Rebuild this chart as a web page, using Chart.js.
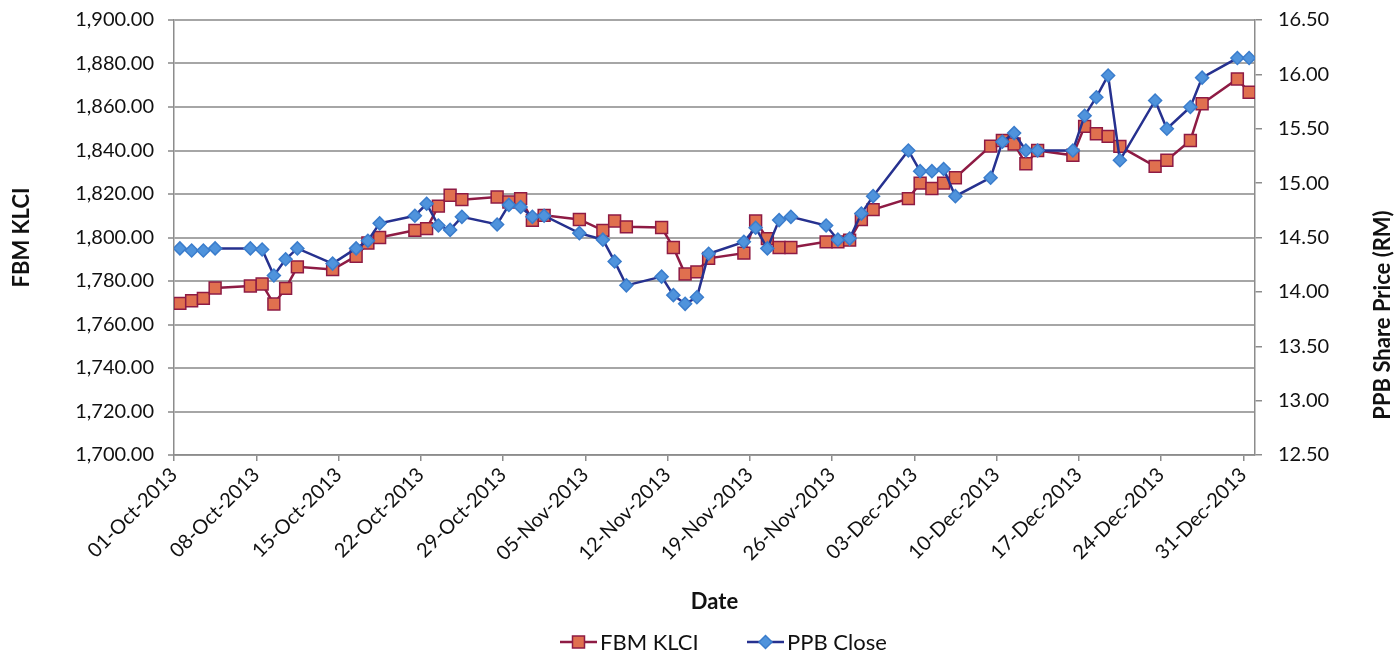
<!DOCTYPE html>
<html>
<head>
<meta charset="utf-8">
<script src="https://cdn.jsdelivr.net/npm/chart.js@4.4.0/dist/chart.umd.min.js"></script>
<style>
	html, body { margin: 0; padding: 0; background: #fff; }
	#multiChart { display: block; }
</style>
</head>
<body>
<canvas id="multiChart" width="1398" height="654"></canvas>
<script>
const tradeDates = [
	'2013-10-01', '2013-10-02', '2013-10-03', '2013-10-04',
	'2013-10-07', '2013-10-08', '2013-10-09', '2013-10-10', '2013-10-11',
	'2013-10-14', '2013-10-16', '2013-10-17', '2013-10-18',
	'2013-10-21', '2013-10-22', '2013-10-23', '2013-10-24', '2013-10-25',
	'2013-10-28', '2013-10-29', '2013-10-30', '2013-10-31', '2013-11-01',
	'2013-11-04', '2013-11-06', '2013-11-07', '2013-11-08',
	'2013-11-11', '2013-11-12', '2013-11-13', '2013-11-14', '2013-11-15',
	'2013-11-18', '2013-11-19', '2013-11-20', '2013-11-21', '2013-11-22',
	'2013-11-25', '2013-11-26', '2013-11-27', '2013-11-28', '2013-11-29',
	'2013-12-02', '2013-12-03', '2013-12-04', '2013-12-05', '2013-12-06',
	'2013-12-09', '2013-12-10', '2013-12-11', '2013-12-12', '2013-12-13',
	'2013-12-16', '2013-12-17', '2013-12-18', '2013-12-19', '2013-12-20',
	'2013-12-23', '2013-12-24', '2013-12-26', '2013-12-27',
	'2013-12-30', '2013-12-31'
]
const klciClose = [
	1769.7, 1770.9, 1772.0, 1776.8,
	1777.7, 1778.6, 1769.4, 1776.6, 1786.5,
	1785.3, 1791.4, 1797.5, 1800.0,
	1803.3, 1804.1, 1814.4, 1819.4, 1817.4,
	1818.6, 1816.3, 1817.9, 1807.9, 1810.2,
	1808.3, 1803.3, 1807.6, 1804.9,
	1804.6, 1795.4, 1783.2, 1784.2, 1790.4,
	1792.8, 1807.6, 1799.5, 1795.4, 1795.4,
	1798.0, 1798.0, 1798.8, 1808.3, 1812.8,
	1817.9, 1825.0, 1822.5, 1825.0, 1827.5,
	1842.0, 1844.6, 1843.0, 1833.9, 1840.0,
	1837.8, 1851.1, 1847.7, 1846.5, 1841.9,
	1832.7, 1835.5, 1844.6, 1861.5,
	1872.9, 1866.8
]
const ppbClose = [
	14.40, 14.38, 14.38, 14.40,
	14.40, 14.39, 14.15, 14.30, 14.40,
	14.26, 14.40, 14.47, 14.63,
	14.70, 14.81, 14.61, 14.57, 14.69,
	14.62, 14.80, 14.78, 14.69, 14.70,
	14.54, 14.48, 14.28, 14.06,
	14.14, 13.97, 13.89, 13.95, 14.35,
	14.46, 14.59, 14.40, 14.66, 14.69,
	14.61, 14.48, 14.49, 14.72, 14.88,
	15.30, 15.11, 15.11, 15.13, 14.88,
	15.05, 15.38, 15.46, 15.30, 15.30,
	15.30, 15.62, 15.79, 15.99, 15.21,
	15.76, 15.50, 15.70, 15.97,
	16.15, 16.15
]
const seriesNames = ['FBM KLCI', 'PPB Close']
const klciTicks = { min: 1700, max: 1900, step: 20 }
const ppbTicks = { min: 12.5, max: 16.5, step: 0.5 }
const monthNames = ['Jan', 'Feb', 'Mar', 'Apr', 'May', 'Jun', 'Jul', 'Aug', 'Sep', 'Oct', 'Nov', 'Dec']

const startDay = Date.UTC(2013, 9, 1)
const DAY = 86400000

// excel date axis puts each point in the middle of its day
function dayIndex(str) {
	const p = str.split('-')
	return (Date.UTC(+p[0], +p[1] - 1, +p[2]) - startDay) / DAY + 0.5
}

function dateLabel(value) {
	const d = new Date(startDay + value * DAY)
	const dd = String(d.getUTCDate()).padStart(2, '0')
	return dd + '-' + monthNames[d.getUTCMonth()] + '-' + d.getUTCFullYear()
}

function toPoints(values) {
	return values.map((v, i) => ({ x: dayIndex(tradeDates[i]), y: v }))
}

const FONT = 'Lato'
const TEXT = '#111'
const GRID = '#a6a6a6'
const AXIS = '#8c8c8c'
const red = { line: '#8e1b44', fill: '#e0704f' }
const blue = { line: '#26318f', fill: '#4f93dc', edge: '#3b7dcc' }

function drawMarker(ctx, kind, x, y) {
	ctx.save()
	ctx.lineWidth = 1.5
	if (kind === 'rect') {
		ctx.fillStyle = red.fill
		ctx.strokeStyle = red.line
		ctx.fillRect(x - 6, y - 6, 12, 12)
		ctx.strokeRect(x - 6, y - 6, 12, 12)
	} else {
		ctx.fillStyle = blue.fill
		ctx.strokeStyle = blue.edge
		ctx.beginPath()
		ctx.moveTo(x - 6.5, y)
		ctx.lineTo(x, y - 6.5)
		ctx.lineTo(x + 6.5, y)
		ctx.lineTo(x, y + 6.5)
		ctx.closePath()
		ctx.fill()
		ctx.stroke()
	}
	ctx.restore()
}

// right title reads bottom-to-top and the legend has line + marker, so draw them here
const extras = {
	id: 'extras',
	afterDraw(chart) {
		const ctx = chart.ctx
		ctx.save()
		ctx.font = 'bold 22px ' + FONT
		ctx.fillStyle = TEXT
		ctx.textAlign = 'center'
		ctx.textBaseline = 'middle'
		ctx.translate(1383, 315)
		ctx.rotate(-Math.PI / 2)
		ctx.fillText('PPB Share Price (RM)', 0, 0)
		ctx.restore()

		const items = [
			{ name: seriesNames[0], x: 560, color: red.line, kind: 'rect' },
			{ name: seriesNames[1], x: 747, color: blue.line, kind: 'rectRot' }
		]
		const ly = 642
		items.forEach(it => {
			ctx.save()
			ctx.strokeStyle = it.color
			ctx.lineWidth = 2.5
			ctx.beginPath()
			ctx.moveTo(it.x, ly)
			ctx.lineTo(it.x + 37, ly)
			ctx.stroke()
			ctx.restore()
			drawMarker(ctx, it.kind, it.x + 18.5, ly)
			ctx.save()
			ctx.font = '22px ' + FONT
			ctx.fillStyle = TEXT
			ctx.textBaseline = 'middle'
			ctx.fillText(it.name, it.x + 40, ly + 1)
			ctx.restore()
		})
	}
}

// fixed axis boxes so the plot area sits where the excel one does
function fixY(width) {
	return scale => {
		scale.width = width
		scale.paddingTop = 0
		scale.paddingBottom = 0
	}
}

const ctx = document.getElementById('multiChart').getContext('2d')
const multiChart = new Chart(ctx, {
	type: 'line',
	data: {
		datasets: [
			{
				label: seriesNames[0],
				data: toPoints(klciClose),
				yAxisID: 'y',
				order: 2,
				borderColor: red.line,
				borderWidth: 2.5,
				backgroundColor: red.fill,
				pointStyle: 'rect',
				pointRadius: 8.4,
				pointBorderColor: red.line,
				pointBorderWidth: 1.5,
				pointBackgroundColor: red.fill,
				tension: 0
			},
			{
				label: seriesNames[1],
				data: toPoints(ppbClose),
				yAxisID: 'y1',
				order: 1,
				borderColor: blue.line,
				borderWidth: 2.5,
				backgroundColor: blue.fill,
				pointStyle: 'rectRot',
				pointRadius: 6.5,
				pointBorderColor: blue.edge,
				pointBorderWidth: 1.5,
				pointBackgroundColor: blue.fill,
				tension: 0
			}
		]
	},
	options: {
		responsive: false,
		animation: false,
		devicePixelRatio: 1,
		layout: { padding: { top: 20, right: 0, bottom: 34, left: 0 } },
		plugins: {
			legend: { display: false },
			tooltip: { enabled: false }
		},
		scales: {
			x: {
				type: 'linear',
				min: 0,
				max: 92,
				afterFit(scale) {
					scale.height = 165
					scale.paddingLeft = 0
					scale.paddingRight = 0
				},
				grid: { drawOnChartArea: false, drawTicks: true, tickLength: 6, color: AXIS, lineWidth: 1.5 },
				border: { color: AXIS, width: 1.5 },
				ticks: {
					stepSize: 7,
					includeBounds: false,
					autoSkip: false,
					maxRotation: 45,
					minRotation: 45,
					padding: 2,
					color: TEXT,
					font: { family: FONT, size: 20 },
					callback: v => dateLabel(v)
				},
				title: {
					display: true,
					text: 'Date',
					color: TEXT,
					font: { family: FONT, size: 22, weight: 'bold' },
					padding: { top: 4, bottom: 5 }
				}
			},
			y: {
				position: 'left',
				min: klciTicks.min,
				max: klciTicks.max,
				afterFit: fixY(174),
				grid: { color: GRID, lineWidth: 2, tickLength: 6 },
				border: { color: AXIS, width: 1.5 },
				ticks: {
					stepSize: klciTicks.step,
					padding: 14,
					color: TEXT,
					font: { family: FONT, size: 20 },
					callback: v => v.toLocaleString('en-US', { minimumFractionDigits: 2, maximumFractionDigits: 2 })
				},
				title: {
					display: true,
					text: 'FBM KLCI',
					color: TEXT,
					font: { family: FONT, size: 22, weight: 'bold' },
					padding: { top: 9, bottom: 0 }
				}
			},
			y1: {
				position: 'right',
				min: ppbTicks.min,
				max: ppbTicks.max,
				afterFit: fixY(143),
				grid: { drawOnChartArea: false, color: AXIS, lineWidth: 1.5, tickLength: 7 },
				border: { color: AXIS, width: 1.5 },
				ticks: {
					stepSize: ppbTicks.step,
					padding: 16,
					color: TEXT,
					font: { family: FONT, size: 20 },
					callback: v => v.toFixed(2)
				}
			}
		}
	},
	plugins: [extras]
})
</script>
</body>
</html>
